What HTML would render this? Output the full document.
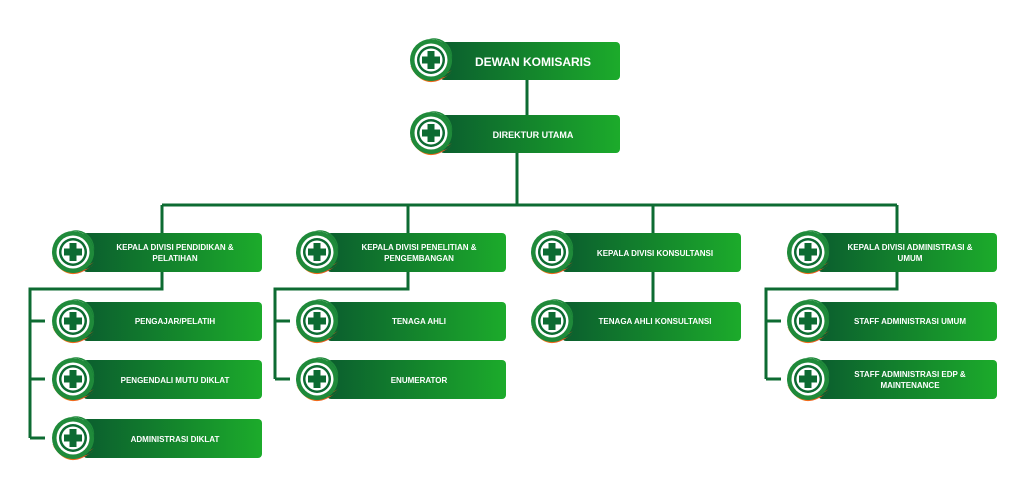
<!DOCTYPE html>
<html><head><meta charset="utf-8"><style>
html,body{margin:0;padding:0;background:#fff;}
svg text{font-family:"Liberation Sans",sans-serif;font-weight:bold;fill:#fff;text-anchor:middle;}
</style></head><body>
<svg width="1024" height="499" viewBox="0 0 1024 499" xmlns="http://www.w3.org/2000/svg">
<defs>
<linearGradient id="g" x1="0" x2="1" y1="0" y2="0"><stop offset="0" stop-color="#0b5e2e"/><stop offset="1" stop-color="#1cab2b"/></linearGradient>
<linearGradient id="o" x1="0" x2="1"><stop offset="0" stop-color="#f7931e"/><stop offset="1" stop-color="#e8401c"/></linearGradient>
<g id="ic">
<path d="M-20 8 Q-4 34 21 12 Q8 26 -20 8 Z" fill="url(#o)"/>
<path d="M-21 6 Q-2 28 21 10 Q4 22 -21 6 Z" fill="#e85a1c"/>
<path d="M-2 -21 A21 21 0 1 1 -20 6 Q-8 16 8 14 A15 15 0 1 0 -2 -21 Z" fill="#1f8a3a"/>
<circle r="21" fill="#1f8a3a"/>
<circle r="16.5" fill="#fff"/>
<circle r="14" fill="#0d6b32"/>
<circle r="11.5" fill="#fff"/>
<path d="M-3.5 -9 h7 v5.5 h5.5 v7 h-5.5 v5.5 h-7 v-5.5 h-5.5 v-7 h5.5 Z" fill="#0d6b32"/>
</g>
</defs>
<g stroke="#0d6b32" stroke-width="3" fill="none">
<path d="M527 80 V115 M517 153 V205 M162 205 H897 M162 205 V233 M408 205 V233 M653 205 V233 M897 205 V233"/>
<path d="M162 272 V289 H30 V438 M30 321 H45 M30 379 H45 M30 438 H45"/>
<path d="M408 272 V289 H275 V379 M275 321 H290 M275 379 H290"/>
<path d="M653 272 V302"/>
<path d="M897 272 V289 H766 V379 M766 321 H781 M766 379 H781"/>
</g>
<g>
<rect x="440" y="42" width="180" height="38" rx="4" fill="url(#g)"/><use href="#ic" x="431" y="60"/>
<text x="533" y="66" font-size="12">DEWAN KOMISARIS</text>
<rect x="440" y="115" width="180" height="38" rx="4" fill="url(#g)"/><use href="#ic" x="431" y="133"/>
<text x="533" y="138" font-size="9">DIREKTUR UTAMA</text>

<rect x="83" y="233" width="179" height="39" rx="4" fill="url(#g)"/><use href="#ic" x="73" y="252"/>
<text x="175" y="250" font-size="8">KEPALA DIVISI PENDIDIKAN &amp;</text><text x="175" y="261" font-size="8">PELATIHAN</text>
<rect x="327" y="233" width="179" height="39" rx="4" fill="url(#g)"/><use href="#ic" x="317" y="252"/>
<text x="419" y="250" font-size="8">KEPALA DIVISI PENELITIAN &amp;</text><text x="419" y="261" font-size="8">PENGEMBANGAN</text>
<rect x="562" y="233" width="179" height="39" rx="4" fill="url(#g)"/><use href="#ic" x="552" y="252"/>
<text x="655" y="256" font-size="8">KEPALA DIVISI KONSULTANSI</text>
<rect x="818" y="233" width="179" height="39" rx="4" fill="url(#g)"/><use href="#ic" x="808" y="252"/>
<text x="910" y="250" font-size="8">KEPALA DIVISI ADMINISTRASI &amp;</text><text x="910" y="261" font-size="8">UMUM</text>

<rect x="83" y="302" width="179" height="39" rx="4" fill="url(#g)"/><use href="#ic" x="73" y="321"/>
<text x="175" y="324" font-size="8">PENGAJAR/PELATIH</text>
<rect x="83" y="360" width="179" height="39" rx="4" fill="url(#g)"/><use href="#ic" x="73" y="379"/>
<text x="175" y="383" font-size="8">PENGENDALI MUTU DIKLAT</text>
<rect x="83" y="419" width="179" height="39" rx="4" fill="url(#g)"/><use href="#ic" x="73" y="438"/>
<text x="175" y="442" font-size="8">ADMINISTRASI DIKLAT</text>

<rect x="327" y="302" width="179" height="39" rx="4" fill="url(#g)"/><use href="#ic" x="317" y="321"/>
<text x="419" y="324" font-size="8">TENAGA AHLI</text>
<rect x="327" y="360" width="179" height="39" rx="4" fill="url(#g)"/><use href="#ic" x="317" y="379"/>
<text x="419" y="383" font-size="8">ENUMERATOR</text>

<rect x="562" y="302" width="179" height="39" rx="4" fill="url(#g)"/><use href="#ic" x="552" y="321"/>
<text x="655" y="324" font-size="8">TENAGA AHLI KONSULTANSI</text>

<rect x="818" y="302" width="179" height="39" rx="4" fill="url(#g)"/><use href="#ic" x="808" y="321"/>
<text x="910" y="324" font-size="8">STAFF ADMINISTRASI UMUM</text>
<rect x="818" y="360" width="179" height="39" rx="4" fill="url(#g)"/><use href="#ic" x="808" y="379"/>
<text x="910" y="377" font-size="8">STAFF ADMINISTRASI EDP &amp;</text><text x="910" y="388" font-size="8">MAINTENANCE</text>
</g>
</svg>
</body></html>
